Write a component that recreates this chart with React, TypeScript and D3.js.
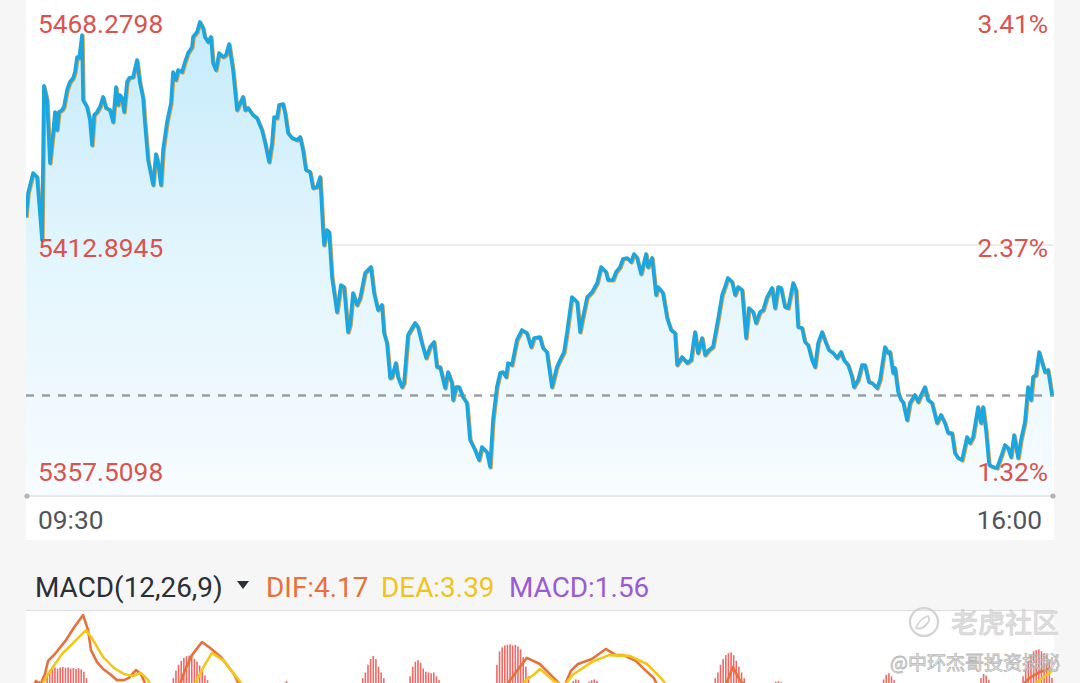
import React from 'react';
import * as d3 from 'd3';

// ---- price series: [minutes since 09:30, index level] ----
const priceSeries: [number, number][] = [
[0,5419.08],[0.8,5424.37],[2.7,5428.79],[4.2,5427.90],[4.9,5422.83],[6.1,5414.00],[6.8,5448.02],[8.0,5444.89],[9.1,5430.99],[10.3,5437.61],[11.0,5442.25],[11.8,5438.27],[12.5,5442.25],[13.7,5442.69],[14.4,5443.35],[15.6,5447.10],[16.7,5448.87],[17.9,5449.75],[18.6,5451.07],[19.4,5454.38],[20.2,5454.16],[21.3,5459.24],[21.7,5444.89],[23.2,5443.35],[24.3,5440.48],[25.1,5434.96],[25.9,5441.58],[27.0,5442.25],[28.1,5443.35],[29.3,5445.56],[30.4,5443.13],[31.9,5442.69],[33.1,5440.04],[34.2,5447.76],[35.0,5443.79],[35.7,5446.00],[36.5,5445.34],[37.3,5442.25],[38.4,5448.87],[39.2,5449.75],[40.7,5449.97],[42.2,5453.72],[43.3,5448.65],[44.5,5445.34],[45.2,5439.82],[46.4,5431.65],[48.3,5426.14],[49.4,5432.98],[50.2,5430.99],[51.3,5426.14],[52.1,5433.86],[53.6,5440.04],[55.1,5444.23],[55.9,5451.07],[57.0,5449.31],[57.8,5451.51],[59.3,5451.07],[60.4,5453.28],[61.6,5455.26],[63.1,5456.59],[63.5,5458.80],[65.0,5459.90],[66.1,5462.11],[67.3,5460.78],[68.0,5458.80],[69.2,5457.69],[70.3,5458.80],[71.1,5453.06],[72.2,5451.51],[73.4,5455.26],[74.9,5454.38],[76.0,5454.82],[77.2,5457.25],[78.7,5451.51],[80.2,5442.69],[81.4,5444.23],[82.5,5445.56],[83.3,5442.69],[84.4,5443.13],[86.3,5441.58],[87.8,5440.92],[89.7,5438.27],[90.9,5435.40],[92.4,5431.21],[93.5,5435.40],[94.3,5441.14],[95.4,5440.92],[96.2,5443.79],[97.7,5444.01],[98.5,5442.02],
[99.6,5437.61],[101.1,5436.51],[103.0,5436.07],[104.2,5436.73],[105.3,5433.86],[106.4,5429.45],[108.0,5429.01],[109.1,5425.48],[110.6,5425.70],[111.8,5427.90],[112.9,5416.21],[113.3,5412.90],[114.4,5416.21],[115.2,5415.77],[116.3,5405.84],[118.2,5398.11],[119.7,5404.07],[120.9,5403.63],[122.4,5393.70],[123.2,5395.25],[124.3,5402.31],[125.8,5399.66],[127.0,5401.20],[128.9,5406.72],[131.1,5408.04],[132.3,5402.31],[133.8,5398.55],[135.3,5399.66],[136.1,5393.48],[137.2,5391.27],[138.4,5383.55],[139.1,5383.77],[140.6,5386.86],[141.4,5383.77],[142.9,5381.56],[143.7,5382.45],[145.2,5393.04],[147.9,5395.69],[149.0,5394.80],[150.5,5391.27],[152.1,5387.96],[153.6,5390.39],[155.1,5391.49],[156.2,5385.98],[157.4,5385.98],[159.3,5381.34],[160.4,5384.87],[161.9,5382.45],[162.3,5378.70],[163.5,5381.56],[164.6,5381.56],[166.1,5379.36],[167.6,5378.03],[168.8,5369.87],[170.7,5367.66],[172.2,5365.46],[173.3,5368.33],[175.2,5367.22],[176.4,5363.91],[177.5,5374.28],[179.0,5381.56],[180.2,5384.65],[181.3,5384.87],[182.5,5383.77],[183.2,5386.86],[184.7,5386.42],[186.6,5391.94],[188.5,5394.14],[190.4,5393.48],[192.0,5390.39],[193.1,5392.38],[195.4,5392.60],[196.5,5390.17],[198.0,5389.29],[199.9,5381.56],
[201.8,5385.98],[203.0,5387.52],[204.5,5389.29],[205.6,5393.48],[207.5,5401.42],[209.5,5400.32],[210.6,5393.70],[211.7,5397.01],[213.3,5401.42],[215.2,5402.53],[217.1,5404.51],[218.6,5408.04],[220.5,5406.94],[221.2,5405.18],[223.1,5405.18],[224.3,5406.94],[225.8,5408.04],[226.9,5409.81],[228.5,5410.03],[230.0,5409.15],[231.1,5410.91],[232.3,5410.03],[233.8,5406.50],[235.7,5410.91],[236.4,5408.04],[238.0,5410.03],[239.5,5401.87],[240.2,5403.63],[242.1,5402.31],[243.7,5396.79],[245.2,5394.14],[246.7,5393.48],[247.5,5386.42],[249.4,5388.18],[251.3,5386.86],[252.8,5387.52],[254.3,5393.70],[255.4,5389.07],[257.0,5392.38],[258.1,5388.63],[259.6,5389.73],[261.1,5390.39],[263.0,5396.35],[264.6,5401.87],[265.7,5403.63],[266.8,5405.62],[268.4,5404.74],[269.5,5401.87],[270.7,5403.63],[272.2,5402.97],[273.7,5392.38],[274.8,5398.99],[276.4,5398.11],[277.5,5395.69],[279.0,5398.11],[280.2,5398.55],[281.7,5401.42],[283.6,5403.41],[284.7,5398.99],[285.9,5403.63],[287.0,5403.41],[288.5,5399.22],[289.7,5398.99],[291.6,5404.51],[292.7,5402.97],[293.5,5394.80],[295.0,5394.58],[296.1,5391.49],[297.3,5390.84],[298.8,5387.52],[299.9,5385.98],
[301.1,5391.27],[302.6,5393.70],[304.1,5391.27],[305.2,5389.73],[306.8,5389.07],[308.3,5387.96],[309.8,5389.29],[310.9,5387.52],[312.5,5386.42],[314.0,5383.77],[314.7,5381.56],[316.3,5383.11],[317.8,5386.42],[318.9,5386.42],[320.4,5382.67],[321.6,5382.45],[323.5,5381.34],[324.6,5383.11],[326.5,5390.39],[327.7,5389.07],[328.4,5389.29],[329.6,5384.65],[330.3,5385.76],[331.5,5380.46],[332.6,5378.70],[333.4,5378.25],[334.9,5374.28],[336.0,5378.03],[337.9,5379.80],[339.1,5378.25],[340.6,5380.24],[341.7,5381.56],[342.9,5378.70],[344.4,5378.03],[346.3,5373.62],[347.8,5375.39],[349.3,5373.62],[350.5,5371.41],[352.0,5371.41],[353.1,5367.00],[354.3,5365.90],[355.8,5365.46],[357.7,5370.53],[358.8,5369.21],[360.0,5370.53],[361.9,5377.15],[363.0,5373.62],[363.8,5377.15],[364.9,5372.08],[366.1,5364.36],[367.6,5363.91],[369.1,5363.69],[370.6,5366.12],[372.1,5368.77],[373.3,5368.10],[374.4,5366.12],[375.6,5370.97],[377.1,5365.90],[378.2,5369.87],[379.7,5373.84],[380.9,5381.56],[382.0,5378.70],[382.8,5383.77],[383.9,5384.21],[385.1,5389.29],[386.2,5387.08],[387.3,5384.87],[388.5,5385.31],[390.0,5379.67]
];

const priceTicks = [5468.2798, 5412.8945, 5357.5098];
const pctTicks = ['3.41%', '2.37%', '1.32%'];
const timeTicks = ['09:30', '16:00'];
const sessionMinutes = [0, 390];

// ---- MACD(12,26,9) ----
const difSeries: [number, number][] = [
[0,-4.2],[2.7,-1.0],[3.8,0.8],[5.3,-0.5],[7.2,2.6],[8.4,6.0],[11.0,7.8],[15.2,11.4],[18.2,14.6],[21.7,17.9],[23.6,14.0],[24.7,8.8],[27.0,5.7],[29.3,3.9],[31.9,2.6],[34.6,1.0],[37.2,1.0],[39.1,1.6],[41.8,3.6],[43.7,2.6],[46.0,-1.0],[49.0,-5.5],[54.7,-4.2],[58.1,-1.0],[60.4,3.6],[63.1,7.5],[66.9,10.9],[69.9,9.4],[74.1,7.0],[79.0,2.6],[81.7,-1.0],[85.1,-5.5],[96.5,-4.2],[104.1,-5.5],[115.5,-4.2],[126.9,-3.6],[134.5,-4.2],[149.7,-4.2],[164.9,-5.5],[176.3,-4.2],[182.0,-1.0],[186.6,3.4],[190.4,6.8],[195.3,5.2],[200.6,1.6],[204.4,-1.0],[207.1,3.4],[209.8,5.2],[215.1,6.5],[220.4,9.1],[224.2,7.5],[226.9,7.5],[231.8,6.0],[234.5,4.2],[238.6,1.6],[240.5,-1.0],[244.7,-4.2],[256.1,-4.2],[265.6,-1.0],[268.7,4.4],[271.3,1.0],[275.1,-1.6],[282.7,-1.0],[286.9,-0.3],[290.3,-2.1],[301.7,-4.2],[324.5,-2.9],[351.1,-4.2],[370.1,-2.9],[377.7,-1.0],[381.5,1.6],[385.3,3.1],[390,4.17]
];
const deaSeries: [number, number][] = [
[0,-5.5],[5.3,-1.0],[8.4,2.6],[13.7,7.8],[19.0,11.4],[22.8,14.0],[25.5,11.4],[29.3,7.0],[33.4,4.2],[37.2,2.6],[40.7,2.1],[43.7,2.9],[46.4,1.0],[47.9,-1.0],[52.8,-4.2],[58.5,-4.2],[63.5,-1.0],[67.3,4.2],[70.7,8.1],[75.2,6.0],[79.4,2.3],[83.2,-1.0],[88.9,-4.2],[180.1,-4.2],[187.7,-1.6],[190.0,1.0],[193.4,2.6],[195.3,3.9],[197.6,2.6],[200.6,0.8],[204.4,-0.5],[208.2,2.6],[215.1,5.7],[221.5,7.5],[229.5,7.3],[236.0,5.2],[241.3,1.6],[244.3,-1.0],[252.3,-4.2],[267.5,-2.9],[278.9,-2.1],[294.1,-3.6],[370.1,-4.2],[381.5,-1.0],[386.5,1.6],[390,3.39]
];
const macdBars: [number, number][] = [
[4,0.5],[5,0.8],[6,0.6],[8,2.5],[9,3.6],[10,4.0],[11,4.2],[12,4.0],[13,4.3],[14,4.4],[15,4.2],[16,4.3],[17,4.0],[18,4.2],[19,3.9],[20,4.1],[21,3.8],[22,3.2],[23,1.5],
[56,1.5],[57,3.5],[58,5.0],[59,6.0],[60,6.8],[61,7.2],[62,7.4],[63,7.0],[64,6.5],[65,5.8],[66,4.8],[67,3.5],[68,2.2],[69,1.0],
[99,0.8],
[128,1.5],[129,3.0],[130,5.0],[131,6.5],[132,7.3],[133,6.5],[134,4.5],[135,3.0],[136,1.5],
[146,2.0],[147,4.5],[148,5.8],[149,6.2],[150,5.5],[151,4.0],[152,3.2],[153,3.0],[154,2.8],[155,3.0],[156,2.0],[157,1.0],
[179,5.0],[180,8.5],[181,9.5],[182,10.0],[183,10.2],[184,10.3],[185,10.0],[186,10.2],[187,9.8],[188,9.0],[189,7.0],[190,4.5],[191,2.0],
[208,0.8],[209,1.2],[210,1.0],[214,0.6],[215,1.0],[216,1.2],[217,0.8],
[262,1.5],[263,3.0],[264,5.0],[265,6.5],[266,7.5],[267,8.0],[268,8.2],[269,7.5],[270,6.0],[271,4.5],[272,3.0],[273,1.5],
[285,0.6],[286,0.7],[287,0.5],
[326,1.2],[327,2.4],[328,2.8],[329,2.0],[330,1.0],
[363,1.5],[364,2.6],[365,2.2],[366,1.0],
[379,2.0],[380,4.0],[381,6.0],[382,7.5],[383,8.5],[384,8.8],[385,9.0],[386,8.5],[387,8.0],[388,7.5],[389,6.0],[390,1.56]
];
const legendDIF = 4.17;
const legendDEA = 3.39;
const legendMACD = 1.56;

const W = 1080;
const H = 683;
const FONT = "Roboto, 'Noto Sans', sans-serif";
const RED = '#d9534f';

export default function App() {
  const x = d3.scaleLinear().domain(sessionMinutes).range([26, 1052]);
  const y = d3.scaleLinear().domain([priceTicks[2], priceTicks[0]]).range([496, -6]);
  const yM = d3.scaleLinear().domain([-10, 20]).range([722.5, 607]);

  const line = d3.line<[number, number]>().x(d => x(d[0])).y(d => y(d[1]));
  const area = d3.area<[number, number]>().x(d => x(d[0])).y0(496).y1(d => y(d[1]));
  const mLine = d3.line<[number, number]>().x(d => x(d[0])).y(d => yM(d[1]));

  const last = priceSeries[priceSeries.length - 1][1];
  const yLast = y(last);

  const labelY = [y(priceTicks[0]) + 39, y(priceTicks[1]) + 12, y(priceTicks[2]) - 15];

  return (
    <svg width={W} height={H} style={{ position: 'absolute', left: 0, top: 0, display: 'block' }} fontFamily={FONT}>
      <defs>
        <linearGradient id="areaGrad" gradientUnits="userSpaceOnUse" x1="0" y1="0" x2="0" y2="496">
          <stop offset="0" stopColor="#c3eafb" />
          <stop offset="0.5" stopColor="#e2f5fd" />
          <stop offset="1" stopColor="#f7fcff" />
        </linearGradient>
        <clipPath id="mainClip"><rect x={26} y={0} width={1028} height={496} /></clipPath>
        <clipPath id="macdClip"><rect x={26} y={611} width={1028} height={H - 611} /></clipPath>
      </defs>

      <rect x={0} y={0} width={W} height={H} fill="#f6f6f7" />
      <rect x={26} y={0} width={1028} height={540} fill="#ffffff" />
      <rect x={26} y={611} width={1028} height={H - 611} fill="#ffffff" />

      {/* grid */}
      <line x1={26} x2={1054} y1={y(priceTicks[1])} y2={y(priceTicks[1])} stroke="#dcdcdc" strokeWidth={1} />

      <g clipPath="url(#mainClip)">
        <path d={area(priceSeries) || ''} fill="url(#areaGrad)" />
        <line x1={26} x2={1054} y1={yLast} y2={yLast} stroke="#9c9fa6" strokeWidth={2.5} strokeDasharray="8 8" />
        <path d={line(priceSeries) || ''} fill="none" stroke="#d9a04a" strokeWidth={3.5} strokeLinejoin="round" transform="translate(0.9,0.9)" />
        <path d={line(priceSeries) || ''} fill="none" stroke="#1aa7e0" strokeWidth={3.6} strokeLinejoin="round" />
      </g>

      {/* bottom axis */}
      <line x1={27} x2={1053} y1={496} y2={496} stroke="#e3e3e3" strokeWidth={1.5} />
      <circle cx={27} cy={496} r={2.6} fill="#b4b4b4" />
      <circle cx={1053} cy={496} r={2.6} fill="#b4b4b4" />

      {/* price labels */}
      {priceTicks.map((p, i) => (
        <text key={'p' + i} x={38} y={labelY[i]} fontSize={26.3} fill={RED}>{p.toFixed(4)}</text>
      ))}
      {pctTicks.map((t, i) => (
        <text key={'c' + i} x={1048} y={labelY[i]} fontSize={26.3} fill={RED} textAnchor="end">{t}</text>
      ))}

      {/* time labels */}
      <text x={38} y={529} fontSize={26.3} fill="#50545c">{timeTicks[0]}</text>
      <text x={1042} y={529} fontSize={26.3} fill="#50545c" textAnchor="end">{timeTicks[1]}</text>

      {/* MACD legend */}
      <text x={35} y={597} fontSize={27.9} fill="#2b2f36">MACD(12,26,9)</text>
      <polygon points="237,581 249,581 243,589" fill="#2b2f36" />
      <text x={266} y={597} fontSize={27.9} fill="#e8703a">{`DIF:${legendDIF.toFixed(2)}`}</text>
      <text x={381} y={597} fontSize={27.9} fill="#f0c419">{`DEA:${legendDEA.toFixed(2)}`}</text>
      <text x={509} y={597} fontSize={27.9} fill="#9b5bd4">{`MACD:${legendMACD.toFixed(2)}`}</text>
      <line x1={26} x2={1054} y1={610.5} y2={610.5} stroke="#dcdcdc" strokeWidth={1} />

      {/* MACD panel */}
      <g clipPath="url(#macdClip)">
        {macdBars.map((b, i) => (
          <rect key={'b' + i} x={x(b[0]) - 0.8} y={yM(b[1])} width={1.6} height={yM(0) - yM(b[1])} fill="#ec6a66" />
        ))}
        <path d={mLine(difSeries) || ''} fill="none" stroke="#e8703a" strokeWidth={2.6} strokeLinejoin="round" />
        <path d={mLine(deaSeries) || ''} fill="none" stroke="#f5c518" strokeWidth={2.6} strokeLinejoin="round" />
      </g>

      {/* watermark */}
      <g opacity={0.85}>
        <circle cx={924} cy={622} r={14} fill="none" stroke="#cdcdcd" strokeWidth={2.2} />
        <path d="M916,628 q4,-10 12,-12 q3,4 -2,9 q-5,5 -10,3 z" fill="none" stroke="#cdcdcd" strokeWidth={1.8} />
        <text x={951} y={633} fontSize={27} fontWeight={500} fill="#d8d8d8" stroke="#c6c6c6" strokeWidth={0.5}
          fontFamily="'Noto Sans CJK SC', sans-serif">老虎社区</text>
        <text x={890} y={670} fontSize={19} fill="#f2f2f2" stroke="#ababab" strokeWidth={0.8}
          fontFamily="'Noto Sans CJK SC', sans-serif">@中环杰哥投资探秘</text>
      </g>
    </svg>
  );
}
